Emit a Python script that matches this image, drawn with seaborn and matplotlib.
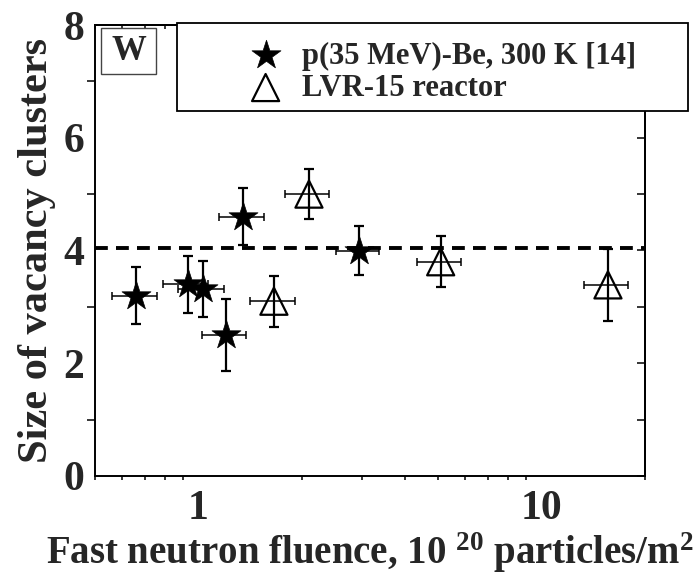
import numpy as np
import pandas as pd
import seaborn as sns
import matplotlib
matplotlib.use('Agg')
import matplotlib.pyplot as plt
from matplotlib.patches import Rectangle
from matplotlib.ticker import FixedLocator, NullFormatter

# proton-irradiated (stars)
star_label = 'p(35 MeV)-Be, 300 K [14]'
star_x = [0.66, 0.93, 1.03, 1.20, 1.35, 2.94]
star_y = [3.20, 3.40, 3.32, 2.50, 4.60, 4.00]
star_xerr = [0.10, 0.14, 0.155, 0.177, 0.20, 0.43]
star_yerr = [0.50, 0.50, 0.50, 0.64, 0.50, 0.44]

# reactor (open triangles)
tri_label = 'LVR-15 reactor'
tri_x = [1.66, 2.10, 5.08, 15.6]
tri_y = [3.10, 5.00, 3.80, 3.39]
tri_xerr = [0.25, 0.31, 0.76, 2.3]
tri_yerr = [0.45, 0.45, 0.45, 0.64]

mean_size = 4.04

sns.set_theme(style='white')
plt.rcParams['font.family'] = ['Liberation Serif', 'DejaVu Serif']
plt.rcParams['font.weight'] = 'bold'
plt.rcParams['mathtext.fontset'] = 'custom'
plt.rcParams['mathtext.rm'] = 'Liberation Serif:bold'
plt.rcParams['mathtext.bf'] = 'Liberation Serif:bold'
plt.rcParams['mathtext.default'] = 'rm'

stars = pd.DataFrame({'x': star_x, 'y': star_y})
tris = pd.DataFrame({'x': tri_x, 'y': tri_y})

fig = plt.figure(figsize=(6.93, 5.78), dpi=100)
ax = fig.add_axes([95 / 693, 1 - 476 / 578, 550 / 693, 451 / 578])

# dashed mean line
ax.axhline(mean_size, color='black', lw=2.8, ls=(0, (3.3, 2.1)), zorder=1)

# error bars
for xs, ys, xe, ye in [(star_x, star_y, star_xerr, star_yerr),
                       (tri_x, tri_y, tri_xerr, tri_yerr)]:
    ax.errorbar(xs, ys, yerr=ye, fmt='none', ecolor='black', elinewidth=1.6,
                capsize=3.5, capthick=1.6, zorder=2)
    ax.errorbar(xs, ys, xerr=xe, fmt='none', ecolor='black', elinewidth=1.1,
                capsize=3, capthick=1.1, zorder=2)

sns.scatterplot(data=stars, x='x', y='y', marker='*', s=480, color='black',
                edgecolor='black', linewidth=0.5, label=star_label, ax=ax, zorder=3)
sns.scatterplot(data=tris, x='x', y='y', marker='^', s=380, facecolor='none',
                edgecolor='black', linewidth=1.6, label=tri_label, ax=ax, zorder=3)

ax.set_xscale('log')
ax.set_xlim(0.5, 20)
ax.set_ylim(0, 8)

ax.set_xticks([1, 10])
ax.set_xticklabels(['1', '10'])
minor_x = [0.5, 0.6, 0.7, 0.8, 0.9, 2, 3, 4, 5, 6, 7, 8, 9, 20]
ax.xaxis.set_minor_locator(FixedLocator(minor_x))
ax.xaxis.set_minor_formatter(NullFormatter())
ax.set_yticks([0, 2, 4, 6, 8])
ax.yaxis.set_minor_locator(FixedLocator([1, 3, 5, 7]))

ax.tick_params(axis='both', which='major', direction='out', labelsize=30,
               color='black', width=1.3, length=6, pad=2)
ax.tick_params(axis='x', which='minor', direction='out', length=3, width=1.1,
               color='black', bottom=True)
ax.tick_params(axis='y', which='minor', direction='out', length=6, width=1.1,
               color='black', left=True)
ax.tick_params(axis='x', which='major', pad=4)

# inward ticks on top and right
top = ax.secondary_xaxis('top')
top.set_xticks([1, 10])
top.xaxis.set_minor_locator(FixedLocator(minor_x))
top.xaxis.set_minor_formatter(NullFormatter())
top.tick_params(which='both', direction='in', labeltop=False, color='black',
                length=3, width=1.1)
right = ax.secondary_yaxis('right')
right.set_yticks([0, 2, 4, 6, 8])
right.yaxis.set_minor_locator(FixedLocator([1, 3, 5, 7]))
right.tick_params(which='both', direction='in', labelright=False, color='black',
                  length=6, width=1.1)
for a in (ax, top, right):
    for sp in a.spines.values():
        sp.set_color('black')
        sp.set_linewidth(1.4)

ax.set_xlabel(r'Fast neutron fluence, 10 $^{20}$ particles/m$^{2}$',
              fontsize=28, fontweight='bold', labelpad=2)
ax.set_ylabel('Size of vacancy clusters', fontsize=30.5, fontweight='bold',
              labelpad=5)

ax.get_legend().remove()

# "W" panel label
fig.add_artist(Rectangle((101 / 693, 1 - 74 / 578), 55 / 693, 46 / 578,
                         transform=fig.transFigure, facecolor='white',
                         edgecolor='#444444', linewidth=1.0))
fig.text(128.5 / 693, 1 - 51 / 578, 'W', ha='center', va='center',
         fontsize=25, fontweight='bold')

# legend box, sticking out past the right spine
fig.add_artist(Rectangle((177 / 693, 1 - 111 / 578), 511 / 693, 88 / 578,
                         transform=fig.transFigure, facecolor='white',
                         edgecolor='black', linewidth=1.3))
handles, labels = ax.get_legend_handles_labels()
fig.legend(handles, labels, loc='center left', frameon=False,
           bbox_to_anchor=(232 / 693, 1 - 72 / 578), fontsize=22,
           handlelength=1.2, handletextpad=0.6, labelspacing=0.1,
           borderpad=0.0)

fig.savefig('out.png', dpi=100)
